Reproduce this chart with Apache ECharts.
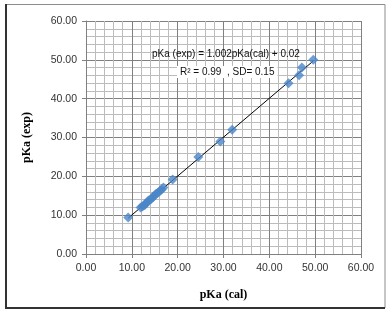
<!DOCTYPE html>
<html>
<head>
<meta charset="utf-8">
<script src="https://cdn.jsdelivr.net/npm/echarts@6/dist/echarts.min.js"></script>
<style>html,body{margin:0;padding:0;background:#fff}#c{width:389px;height:314px}</style>
</head>
<body>
<div id="c"></div>
<script>
var calX = [9.2, 11.9, 12.3, 12.6, 12.9, 13.2, 13.5, 13.8, 14.2, 14.6, 15.0, 15.3, 15.7, 16.1, 16.5, 16.9, 18.9, 24.5, 29.3, 31.9, 44.2, 46.5, 47.1, 49.6];
var expY = [9.4, 12.0, 12.2, 12.5, 12.7, 13.2, 13.6, 13.9, 14.1, 14.6, 15.1, 15.5, 15.8, 16.2, 16.6, 17.1, 19.2, 25.0, 29.0, 32.0, 44.0, 46.0, 48.0, 50.0];
var slope = 1.002, intercept = 0.02;
var trendX = [9.2, 49.6];
var axisTicks = [0, 10, 20, 30, 40, 50, 60];
var eqLine1 = 'pKa (exp) = 1.002pKa(cal) + 0.02';
var eqLine2 = 'R² = 0.99  , SD= 0.15';

var chart = echarts.init(document.getElementById('c'), null, {renderer: 'canvas'});
var pts = calX.map(function (x, i) { return [x, expY[i]]; });
var trend = trendX.map(function (x) { return [x, slope * x + intercept]; });
function axisCommon(name) {
  return {
    type: 'value', min: axisTicks[0], max: axisTicks[axisTicks.length - 1], interval: 10,
    name: name, nameLocation: 'middle',
    nameTextStyle: {fontFamily: 'Liberation Serif', fontWeight: 'bold', fontSize: 12, color: '#000'},
    axisLine: {show: true, lineStyle: {color: '#808080', width: 1}},
    axisTick: {show: true, length: 4, lineStyle: {color: '#808080'}},
    axisLabel: {fontFamily: 'Liberation Sans', fontSize: 10.5, color: '#333', formatter: function (v) { return v.toFixed(2); }},
    splitLine: {show: true, lineStyle: {color: '#808080', width: 1}},
    minorTick: {show: false, splitNumber: 5},
    minorSplitLine: {show: true, lineStyle: {color: '#bcbcbc', width: 1}}
  };
}
var xa = axisCommon('pKa (cal)'); xa.nameGap = 35; xa.axisLabel.margin = 9;
var ya = axisCommon('pKa (exp)'); ya.nameGap = 53; ya.axisLabel.margin = 9;
chart.setOption({
  animation: false,
  grid: {left: 86, right: 28, top: 21, bottom: 60},
  xAxis: xa,
  yAxis: ya,
  graphic: [
    {type: 'rect', shape: {x: 6, y: 4.5, width: 379, height: 303.5}, style: {fill: 'none', stroke: '#8c8c8c', lineWidth: 1}, z: 100},
    {type: 'line', shape: {x1: 6, y1: 4, x2: 6, y2: 308}, style: {stroke: '#333', lineWidth: 2}, z: 101},
    {type: 'line', shape: {x1: 5, y1: 308, x2: 385, y2: 308}, style: {stroke: '#333', lineWidth: 2}, z: 101},
    {type: 'text', left: 152, top: 49, z: 50, style: {text: eqLine1, fontFamily: 'Liberation Sans', fontSize: 10, fill: '#111'}},
    {type: 'text', left: 177, top: 66, z: 50, style: {text: eqLine2, fontFamily: 'Liberation Sans', fontSize: 10, fill: '#111', backgroundColor: '#fff', padding: [1, 3, 1, 3]}}
  ],
  series: [
    {type: 'line', data: trend, symbol: 'none', lineStyle: {color: '#000', width: 1}, z: 3},
    {type: 'scatter', data: pts, symbol: 'diamond', symbolSize: 10, itemStyle: {color: '#4a86c8'}, z: 4}
  ]
});
</script>
</body>
</html>
